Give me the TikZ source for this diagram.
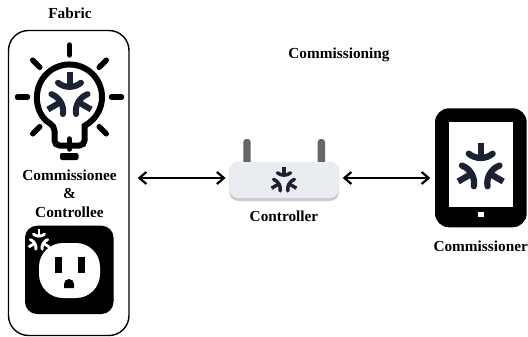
\documentclass[tikz,border=0pt]{standalone}
\usepackage{fontspec}
\setmainfont{Liberation Serif}
\usetikzlibrary{arrows.meta}
\definecolor{routerbody}{HTML}{E9ECF0}
\definecolor{routerbase}{HTML}{C9CBCE}
\definecolor{antennagray}{HTML}{666666}
\definecolor{logonavy}{HTML}{1B2233}
\tikzset{
	caption/.style={font=\fontsize{15.3}{17}\selectfont\bfseries,inner sep=0pt},
	biarrow/.style={line width=2.2pt,{Straight Barb[length=7pt,width=12pt,line width=2.2pt]}-{Straight Barb[length=7pt,width=12pt,line width=2.2pt]}},
	bulbline/.style={line width=5.5pt,line cap=round}
}
\newcommand{\matterlogo}[4]{%
	\foreach \a in {0,120,240} {
		\draw[#4,line width=#3*0.24pt,shift={(#1,#2)},rotate=\a] (0,-#3) -- (0,-0.45*#3);
		\draw[#4,line width=#3*0.24pt,shift={(#1,#2)},rotate=\a,line cap=round] (-0.46*#3,-0.57*#3) .. controls (-0.2*#3,-0.35*#3) and (0.2*#3,-0.35*#3) .. (0.46*#3,-0.57*#3);
	}
}
\begin{document}
\begin{tikzpicture}[x=1pt,y=-1pt]
	\useasboundingbox (0,0) rectangle (528,337);
	\coordinate (linkrow) at (0,178);
	% left box
	\node[draw,line width=1.4pt,rounded corners=20pt,minimum width=120.5pt,minimum height=305pt,inner sep=0pt] (fabricbox) at (68.75,183) {};
	\node[caption] (fabriclabel) at (70,13) {Fabric};
	\node[caption] (commissioningl) at (339,55) {Commissioning};
	% bulb
	\foreach \a in {0,45,90,135,180,225,270,315} {
		\draw[bulbline,shift={(69.5,97)},rotate=\a] (0,-42) -- (0,-52);
	}
	\draw[line width=6pt] (54.5,125.8) arc (117.5:422.5:32.5) [rounded corners=5pt] -- (84.5,145.5) -- (54.5,145.5) -- cycle;
	\fill[rounded corners=2pt] (60,153) -- (78.5,153) -- (78.5,160) -- (60,160) -- cycle;
	\matterlogo{69.5}{97}{25}{logonavy}
	\node[caption] (commissionee) at (69.5,175) {Commissionee};
	\node[caption] (ampersand) at (69.5,193) {\&};
	\node[caption] (controllee) at (69.5,212) {Controllee};
	% outlet
	\fill[rounded corners=12pt] (25,225.7) rectangle (113.5,314);
	\fill[white,rounded corners=24pt] (39,243) rectangle (100,298);
	\fill (54.5,257) rectangle (62,273);
	\fill (77.5,257) rectangle (84.5,273);
	\fill (64,288) -- (64,284) arc (180:360:5) -- (74,288) -- cycle;
	\matterlogo{39}{241}{12}{white}
	% router
	\fill[antennagray,rounded corners=3pt] (243.3,165) -- (243.3,139) -- (250.7,139) -- (250.7,165) -- cycle;
	\fill[antennagray,rounded corners=3pt] (317.7,165) -- (317.7,139) -- (325,139) -- (325,165) -- cycle;
	\node[fill=routerbase,rounded corners=9pt,minimum width=109.7pt,minimum height=39pt,inner sep=0pt] (routerbox) at (284.15,181.5) {};
	\fill[routerbody,rounded corners=9pt] (229.3,162) rectangle (339,198);
	\matterlogo{284}{181}{14.4}{logonavy}
	\node[caption] (controller) at (284,216.7) {Controller};
	% tablet
	\node[fill=black,rounded corners=14pt,minimum width=91.7pt,minimum height=119pt,inner sep=0pt] (tabletbox) at (480.85,167.8) {};
	\fill[white] (449,122.3) rectangle (512.7,206.7);
	\fill[white] (477.7,211.7) rectangle (484,217.3);
	\matterlogo{480.7}{168.5}{26}{logonavy}
	\node[caption] (commissioner) at (480.7,246.7) {Commissioner};
	% links
	\draw[biarrow,shorten <=8pt,shorten >=3.5pt] (fabricbox.east |- linkrow) -- (routerbox.west |- linkrow);
	\draw[biarrow,shorten <=3.5pt,shorten >=4.5pt] (routerbox.east |- linkrow) -- (tabletbox.west |- linkrow);
\end{tikzpicture}
\end{document}
